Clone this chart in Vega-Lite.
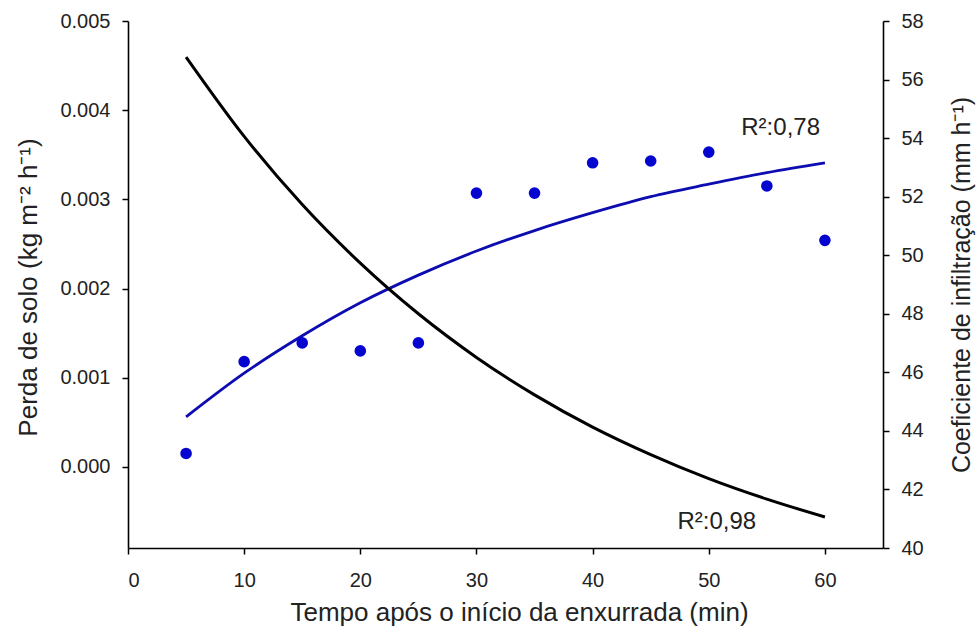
{
  "$schema": "https://vega.github.io/schema/vega-lite/v6.json",
  "autosize": "none",
  "width": 755,
  "height": 527,
  "padding": {"left": 128, "top": 21, "right": 95, "bottom": 88},
  "background": "white",
  "config": {
    "view": {"stroke": null},
    "font": "Liberation Sans",
    "axis": {
      "grid": false,
      "domainColor": "#000000",
      "domainWidth": 1.6,
      "tickColor": "#000000",
      "tickWidth": 1.5,
      "tickSize": 6,
      "labelFont": "Liberation Sans",
      "labelFontSize": 20,
      "labelColor": "#222222",
      "titleFont": "Liberation Sans",
      "titleFontSize": 25,
      "titleFontWeight": "normal",
      "titleColor": "#222222"
    }
  },
  "datasets": {
    "pontos": [
      {"t": 5, "perda": 0.00015},
      {"t": 10, "perda": 0.00118},
      {"t": 15, "perda": 0.00139},
      {"t": 20, "perda": 0.0013},
      {"t": 25, "perda": 0.00139},
      {"t": 30, "perda": 0.00307},
      {"t": 35, "perda": 0.00307},
      {"t": 40, "perda": 0.00341},
      {"t": 45, "perda": 0.00343},
      {"t": 50, "perda": 0.00353},
      {"t": 55, "perda": 0.00315},
      {"t": 60, "perda": 0.00254}
    ],
    "ajuste_perda": [
      {"t": 5, "perda": 0.00056},
      {"t": 10, "perda": 0.00105},
      {"t": 15, "perda": 0.00147},
      {"t": 20, "perda": 0.00184},
      {"t": 25, "perda": 0.00215},
      {"t": 30, "perda": 0.00242},
      {"t": 35, "perda": 0.00265},
      {"t": 40, "perda": 0.00285},
      {"t": 45, "perda": 0.00303},
      {"t": 50, "perda": 0.00317},
      {"t": 55, "perda": 0.0033},
      {"t": 60, "perda": 0.00341}
    ],
    "ajuste_infiltracao": [
      {"t": 5, "infiltracao": 56.77},
      {"t": 10, "infiltracao": 54.06},
      {"t": 15, "infiltracao": 51.73},
      {"t": 20, "infiltracao": 49.73},
      {"t": 25, "infiltracao": 48.0},
      {"t": 30, "infiltracao": 46.51},
      {"t": 35, "infiltracao": 45.23},
      {"t": 40, "infiltracao": 44.13},
      {"t": 45, "infiltracao": 43.19},
      {"t": 50, "infiltracao": 42.37},
      {"t": 55, "infiltracao": 41.67},
      {"t": 60, "infiltracao": 41.06}
    ],
    "rotulos": [
      {"t": 52.8, "perda": 0.0038, "rotulo": "R²:0,78"},
      {"t": 47.3, "perda": -0.00062, "rotulo": "R²:0,98"}
    ]
  },
  "layer": [
    {
      "encoding": {
        "x": {
          "field": "t",
          "type": "quantitative",
          "scale": {"domain": [0, 65], "nice": false, "zero": false},
          "axis": {
            "title": "Tempo após o início da enxurrada (min)",
            "values": [0, 10, 20, 30, 40, 50, 60],
            "format": "d",
            "labelBaseline": "middle",
            "labelPadding": 26,
            "titleX": 391,
            "titleY": 64,
            "titleFontSize": 26,
            "titleBaseline": "middle",
            "titleAnchor": null
          }
        },
        "y": {
          "field": "perda",
          "type": "quantitative",
          "scale": {"domain": [-0.00091, 0.005], "nice": false, "zero": false},
          "axis": {
            "title": "Perda de solo (kg m⁻² h⁻¹)",
            "values": [0, 0.001, 0.002, 0.003, 0.004, 0.005],
            "format": ".3f",
            "labelPadding": 12,
            "titleX": -100,
            "titleY": 266,
            "titleFontSize": 26,
            "titleAngle": 270,
            "titleBaseline": "middle"
          }
        }
      },
      "layer": [
        {
          "data": {"name": "ajuste_perda"},
          "mark": {"type": "line", "color": "#0c0cb0", "strokeWidth": 2.8, "interpolate": "monotone"}
        },
        {
          "data": {"name": "pontos"},
          "mark": {"type": "point", "filled": true, "color": "#0505d0", "opacity": 1, "size": 135}
        },
        {
          "data": {"name": "rotulos"},
          "mark": {"type": "text", "align": "left", "baseline": "middle", "font": "Liberation Sans", "fontSize": 24, "color": "#222222"},
          "encoding": {"text": {"field": "rotulo"}}
        }
      ]
    },
    {
      "data": {"name": "ajuste_infiltracao"},
      "mark": {"type": "line", "color": "#000000", "strokeWidth": 3, "interpolate": "monotone"},
      "encoding": {
        "x": {
          "field": "t",
          "type": "quantitative",
          "scale": {"domain": [0, 65], "nice": false, "zero": false},
          "axis": {
            "title": "Tempo após o início da enxurrada (min)",
            "values": [0, 10, 20, 30, 40, 50, 60],
            "format": "d",
            "labelBaseline": "middle",
            "labelPadding": 26,
            "titleX": 391,
            "titleY": 64,
            "titleFontSize": 26,
            "titleBaseline": "middle",
            "titleAnchor": null
          }
        },
        "y": {
          "field": "infiltracao",
          "type": "quantitative",
          "scale": {"domain": [40, 58], "nice": false, "zero": false},
          "axis": {
            "orient": "right",
            "title": "Coeficiente de infiltração (mm h⁻¹)",
            "values": [40, 42, 44, 46, 48, 50, 52, 54, 56, 58],
            "format": "d",
            "labelPadding": 12,
            "titleX": 78,
            "titleAngle": 270,
            "titleBaseline": "middle"
          }
        }
      }
    }
  ],
  "resolve": {"scale": {"y": "independent"}}
}
